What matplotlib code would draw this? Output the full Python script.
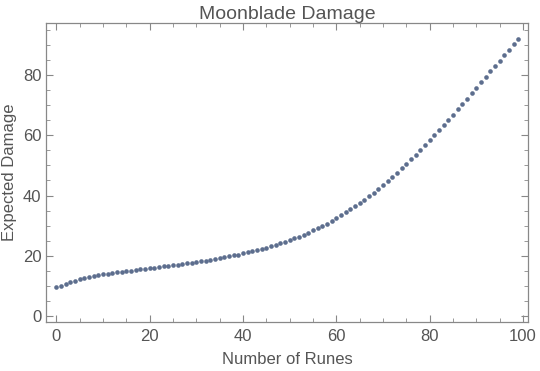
import numpy as np
import matplotlib.pyplot as plt
from matplotlib.ticker import MultipleLocator

plt.rcParams["font.family"] = ["Liberation Sans", "DejaVu Sans"]

runes = np.arange(100)
damage = [
    9.5, 10.0, 10.6, 11.2, 11.7, 12.2, 12.6, 13.0, 13.3, 13.6,
    13.9, 14.1, 14.3, 14.5, 14.7, 14.9, 15.1, 15.3, 15.5, 15.7,
    15.9, 16.1, 16.3, 16.5, 16.7, 16.9, 17.1, 17.3, 17.5, 17.7,
    17.9, 18.2, 18.4, 18.7, 18.9, 19.2, 19.5, 19.8, 20.1, 20.4,
    20.8, 21.1, 21.5, 21.9, 22.3, 22.7, 23.2, 23.6, 24.1, 24.6,
    25.2, 25.8, 26.4, 27.0, 27.7, 28.4, 29.1, 29.9, 30.7, 31.5,
    32.5, 33.4, 34.4, 35.4, 36.4, 37.5, 38.6, 39.8, 41.0, 42.2,
    43.4, 44.7, 46.1, 47.5, 49.0, 50.5, 52.0, 53.6, 55.2, 56.8,
    58.4, 60.1, 61.8, 63.5, 65.2, 66.9, 68.7, 70.4, 72.2, 74.0,
    75.8, 77.6, 79.4, 81.2, 83.0, 84.8, 86.6, 88.4, 90.2, 92.0,
]

fig = plt.figure(figsize=(5.4, 3.71), dpi=100)
ax = fig.add_axes([0.086, 0.132, 0.892, 0.806])

ax.scatter(runes, damage, s=11, color="#5d6e8e", zorder=3, linewidths=0)

ax.set_xlim(-2.1, 101.1)
ax.set_ylim(-2.0, 97.3)
ax.xaxis.set_major_locator(MultipleLocator(20))
ax.xaxis.set_minor_locator(MultipleLocator(5))
ax.yaxis.set_major_locator(MultipleLocator(20))
ax.yaxis.set_minor_locator(MultipleLocator(5))
ax.tick_params(which="both", direction="in", top=True, right=True, color="#888888",
               labelcolor="#555555", labelsize=12)
ax.tick_params(which="major", length=5, width=0.8)
ax.tick_params(which="minor", length=3, width=0.6)
ax.tick_params(axis="x", pad=5)
for s in ax.spines.values():
    s.set_color("#888888")
    s.set_linewidth(0.9)

ax.set_title("Moonblade Damage", color="#555555", fontsize=14, pad=1)
ax.set_xlabel("Number of Runes", color="#555555", fontsize=12, labelpad=6)
ax.set_ylabel("Expected Damage", color="#555555", fontsize=12)

fig.savefig("out.png", dpi=100)
